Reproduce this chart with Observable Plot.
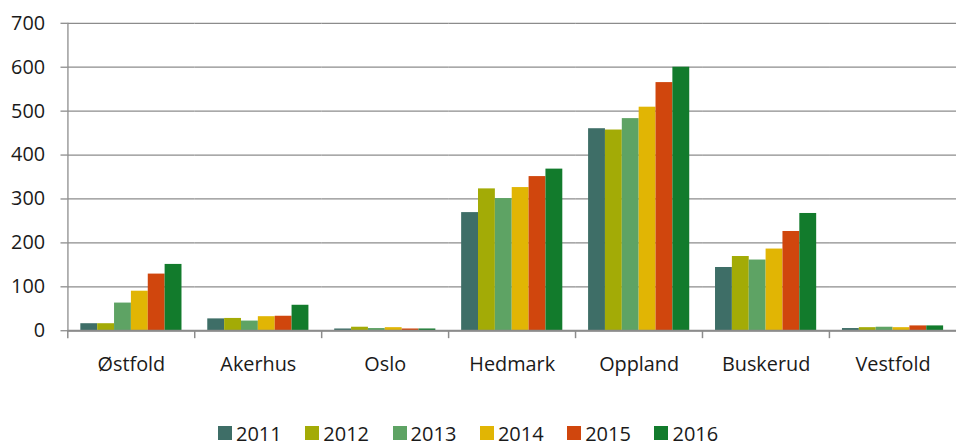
<!DOCTYPE html>
<html><head><meta charset="utf-8">
<script src="https://cdn.jsdelivr.net/npm/d3@7"></script>
<script src="https://cdn.jsdelivr.net/npm/@observablehq/plot@0.6"></script>
<style>
html,body{margin:0;padding:0;overflow:hidden;background:#fff;}
#legend{padding-left:218px;margin-top:28px;font-family:"Open Sans",sans-serif;font-size:20px;}
#legend .lg-swatches{font-family:"Open Sans",sans-serif !important;font-size:20px !important;color:#1a1a1a;margin:0;}
#legend .lg-swatch{margin-right:0 !important;width:87.3px;font-size:20px !important;}
#legend .lg-swatch > svg{margin-right:4px !important;}
</style></head><body>
<div id="chart"></div>
<div id="legend"></div>
<script>
const regions = ["Østfold","Akerhus","Oslo","Hedmark","Oppland","Buskerud","Vestfold"];
const years = ["2011","2012","2013","2014","2015","2016"];
const colors = ["#3e6e67","#a3ab06","#5ea364","#e1b504","#d0460d","#127b2c"];
const v2011 = [16,27,4,269,460,144,5];
const v2012 = [16,28,8,323,457,169,7];
const v2013 = [63,22,5,301,483,161,8];
const v2014 = [90,32,7,326,509,186,7];
const v2015 = [129,33,4,351,565,226,11];
const v2016 = [151,58,4,368,600,267,11];
const yTicks = [0,100,200,300,400,500,600,700];

const series = [v2011,v2012,v2013,v2014,v2015,v2016];
const data = [];
regions.forEach((r,i)=>years.forEach((y,j)=>data.push({region:r,year:y,value:series[j][i]})));

const W = 965, H = 392, mL = 67, mR = 0, mT = 23, mB = H - 333;
const bw = (W - mL - mR) / regions.length;
const gray = "#8c8c8c";

const chart = Plot.plot({
  width: W, height: H,
  marginLeft: mL, marginRight: mR, marginTop: mT, marginBottom: mB,
  style: {fontFamily: "Open Sans", fontSize: "20px", color: "#1a1a1a", background: "white"},
  fx: {domain: regions, padding: 0, label: null},
  x: {domain: years, paddingOuter: 0.74, paddingInner: 0, axis: null},
  y: {domain: [0,700], label: null},
  color: {domain: years, range: colors},
  marks: [
    Plot.gridY(yTicks, {stroke: gray, strokeOpacity: 1, strokeWidth: 1.3}),
    Plot.axisY(yTicks, {tickSize: 7, tickPadding: 16, stroke: gray, fill: "#1a1a1a", strokeWidth: 1.3, label: null}),
    Plot.barY(data, {fx: "region", x: "year", y: "value", fill: "year"}),
    Plot.ruleY([0], {stroke: gray, strokeWidth: 2}),
    Plot.axisFx({anchor: "bottom", tickSize: 0, tickPadding: 26, label: null, fill: "#1a1a1a"}),
    Plot.axisFx({anchor: "bottom", tickSize: 8, tickFormat: null, dx: -bw/2, stroke: gray, strokeWidth: 1.5, label: null}),
    Plot.frame({anchor: "left", facet: "super", stroke: gray, strokeWidth: 1.3})
  ]
});
document.getElementById("chart").append(chart);

const leg = Plot.legend({
  color: {domain: years, range: colors},
  legend: "swatches",
  swatchSize: 14,
  className: "lg"
});
document.getElementById("legend").append(leg);
</script>
</body></html>
